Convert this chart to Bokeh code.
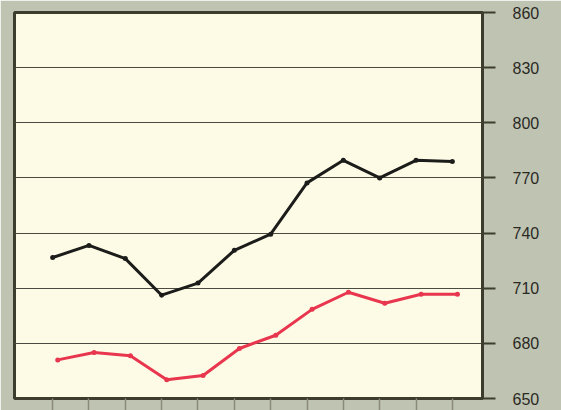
from bokeh.plotting import figure
from bokeh.models import FixedTicker, ColumnDataSource, Range1d
from bokeh.transform import dodge
from bokeh.embed import file_html
from bokeh.resources import INLINE

months = [1, 2, 3, 4, 5, 6, 7, 8, 9, 10, 11, 12]
black_series = [726.7, 733.3, 726.1, 706.2, 712.8, 730.6, 739.4, 767.3, 779.6, 770.0, 779.6, 779.0]
red_series = [671.0, 675.0, 673.2, 660.2, 662.5, 677.2, 684.4, 698.5, 707.8, 701.8, 706.7, 706.7]
y_ticks = [650, 680, 710, 740, 770, 800, 830, 860]

src = ColumnDataSource(dict(x=months, black=black_series, red=red_series))

p = figure(width=561, height=410, output_backend="svg", toolbar_location=None,
           x_range=Range1d(-0.05, 12.83), y_range=Range1d(650, 860),
           y_axis_location="right",
           min_border_left=14, min_border_top=12, min_border_right=79, min_border_bottom=11)

p.background_fill_color = "#fdfbe6"
p.border_fill_color = "#bfc3b1"
p.outline_line_color = "#3d3d2e"
p.outline_line_width = 3

p.xgrid.visible = False
p.ygrid.grid_line_color = "#4a4a40"
p.ygrid.grid_line_width = 1
p.ygrid.ticker = FixedTicker(ticks=y_ticks)

ya = p.yaxis[0]
ya.ticker = FixedTicker(ticks=y_ticks)
ya.axis_line_color = "#3d3d2e"
ya.axis_line_width = 2
ya.major_tick_line_color = "#3d3d2e"
ya.major_tick_line_width = 2
ya.major_tick_out = 13
ya.major_tick_in = 0
ya.minor_tick_line_color = None
ya.major_label_standoff = 17
ya.major_label_text_font = "Liberation Sans"
ya.major_label_text_font_size = "16px"
ya.major_label_text_color = "#2a2a25"

xa = p.xaxis[0]
xa.ticker = FixedTicker(ticks=months)
xa.axis_line_color = None
xa.major_tick_line_color = "#8a8a7a"
xa.major_tick_line_width = 1.5
xa.major_tick_out = 12
xa.major_tick_in = 0
xa.minor_tick_line_color = None
xa.major_label_overrides = {m: "" for m in months}

p.line("x", "black", source=src, line_color="#1c1c1a", line_width=3)
p.scatter("x", "black", source=src, size=5, fill_color="#1c1c1a", line_color=None)

p.line(dodge("x", 0.14), "red", source=src, line_color="#e8364e", line_width=3)
p.scatter(dodge("x", 0.14), "red", source=src, size=5, fill_color="#e8364e", line_color=None)

open("out.html", "w").write(file_html(p, INLINE))
